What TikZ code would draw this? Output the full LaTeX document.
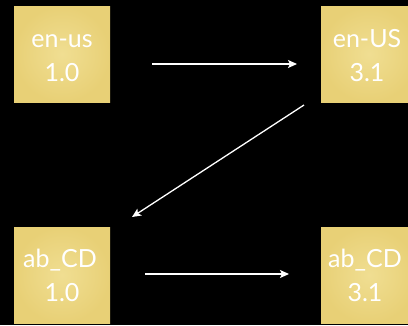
\documentclass[tikz,border=0pt]{standalone}
\usepackage{fontspec}
\setmainfont{Lato}
\usetikzlibrary{arrows.meta}
\definecolor{boxfill}{RGB}{232,208,118}
\definecolor{boxlight}{RGB}{240,222,146}
\tikzset{
  tile/.style={draw=none, inner color=boxlight, outer color=boxfill, minimum width=96pt, minimum height=96pt, inner sep=0pt},
  lbl/.style={text=white, font=\fontsize{25}{25}\selectfont, anchor=base, inner sep=0pt},
  conn/.style={draw=white, line width=1.3pt, -{Stealth[length=9pt,width=8pt,inset=2pt]}}
}
\begin{document}
\begin{tikzpicture}[x=1pt,y=-1pt]
\fill[black] (0,0) rectangle (408,325);
\useasboundingbox (0,0) rectangle (408,325);
\begin{scope}
\clip (0,0) rectangle (408,325);
\node[tile] (A) at (62,54) {};
\node[tile] (B) at (369,54) {};
\node[tile] (C) at (62,275) {};
\node[tile] (D) at (369,275) {};
\end{scope}
\node[lbl] (A1) at ([yshift=7pt]A.center) {en-us};
\node[lbl] (A2) at ([yshift=-27pt]A.center) {1.0};
\node[lbl] (B1) at ([xshift=-2pt,yshift=7pt]B.center) {en-US};
\node[lbl] (B2) at ([xshift=-2pt,yshift=-27pt]B.center) {3.1};
\node[lbl] (C1) at ([xshift=-2pt,yshift=8pt]C.center) {ab\_CD};
\node[lbl] (C2) at ([yshift=-26pt]C.center) {1.0};
\node[lbl] (D1) at ([xshift=-4pt,yshift=8pt]D.center) {ab\_CD};
\node[lbl] (D2) at ([xshift=-4pt,yshift=-26pt]D.center) {3.1};
\coordinate (p1) at (152,64);
\coordinate (p2) at (297,64);
\coordinate (p3) at (304,105);
\coordinate (p4) at (132,217);
\coordinate (p5) at (145,274);
\coordinate (p6) at (289,274);
\draw[conn] (p1) -- (p2);
\draw[conn] (p3) -- (p4);
\draw[conn] (p5) -- (p6);
\end{tikzpicture}
\end{document}
